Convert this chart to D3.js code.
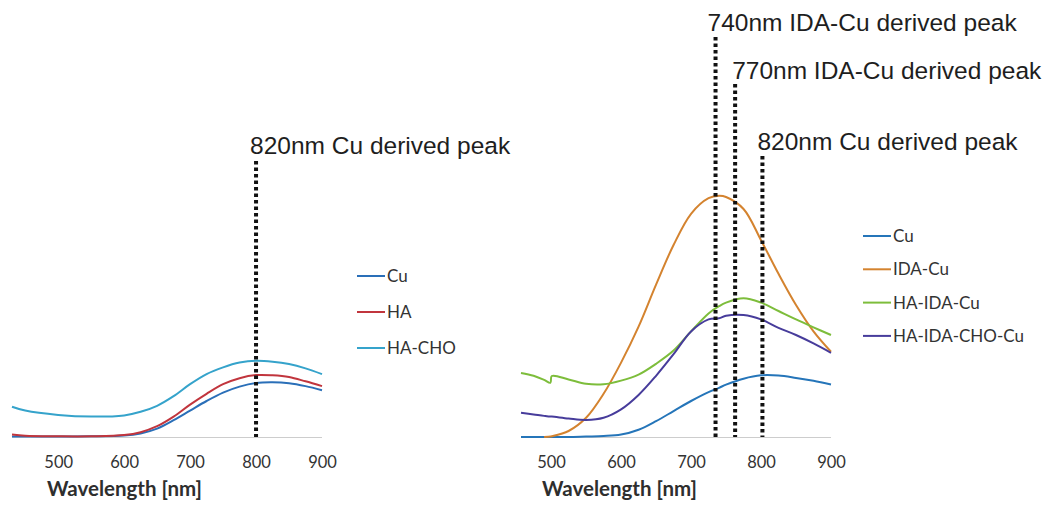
<!DOCTYPE html>
<html>
<head>
<meta charset="utf-8">
<script src="https://cdn.jsdelivr.net/npm/d3@7"></script>
<style>
	body { margin: 0; background: #fff; }
	svg { display: block; }
	.tick text { font-family: Lato, sans-serif; font-size: 16.5px; fill: #333; }
	.xtitle { font-family: Lato, sans-serif; font-size: 20.5px; font-weight: bold; fill: #2e2e2e; }
	.legend text { font-family: Lato, sans-serif; font-size: 17px; fill: #333; }
	.peak text { font-family: "Liberation Sans", Arial, sans-serif; font-size: 24.5px; fill: #1e1e1e; }
</style>
</head>
<body>
<div id="chart"></div>
<script>
// left panel: Cu, HA, HA-CHO
var leftWl = [430, 450, 500, 550, 600, 625, 650, 675, 700, 725, 750, 775, 800, 825, 850, 875, 900]
var leftCu = [0.002, 0.002, 0.002, 0.003, 0.006, 0.015, 0.035, 0.07, 0.11, 0.15, 0.185, 0.21, 0.225, 0.228, 0.224, 0.212, 0.195]
var leftHA = [0.01, 0.005, 0.003, 0.003, 0.008, 0.02, 0.045, 0.085, 0.135, 0.18, 0.22, 0.245, 0.258, 0.257, 0.25, 0.232, 0.212]
var leftHACHO = [0.126, 0.11, 0.092, 0.085, 0.09, 0.105, 0.13, 0.17, 0.22, 0.262, 0.29, 0.31, 0.318, 0.314, 0.304, 0.286, 0.262]
var leftNames = ["Cu", "HA", "HA-CHO"]
var leftPeakWl = [800]
var leftPeakLabels = ["820nm Cu derived peak"]

// right panel: Cu, IDA-Cu, HA-IDA-Cu, HA-IDA-CHO-Cu
var rightWl = [457, 475, 490, 499, 501, 525, 550, 575, 600, 625, 650, 675, 700, 725, 740, 750, 775, 800, 825, 850, 875, 900]
var rightCu = [0, 0, 0, 0, 0, 0, 0.002, 0.004, 0.01, 0.03, 0.066, 0.108, 0.15, 0.187, 0.205, 0.218, 0.243, 0.257, 0.256, 0.246, 0.234, 0.219]
var rightIDACu = [null, null, 0, 0.002, 0.003, 0.025, 0.08, 0.18, 0.31, 0.46, 0.635, 0.8, 0.93, 0.995, 1.005, 1.0, 0.95, 0.82, 0.68, 0.55, 0.44, 0.355]
var rightHAIDACu = [0.267, 0.255, 0.238, 0.226, 0.254, 0.24, 0.222, 0.22, 0.235, 0.26, 0.305, 0.36, 0.44, 0.515, 0.545, 0.56, 0.578, 0.56, 0.525, 0.49, 0.457, 0.425]
var rightHAIDACHOCu = [0.101, 0.094, 0.088, 0.085, 0.085, 0.077, 0.071, 0.08, 0.115, 0.175, 0.255, 0.345, 0.44, 0.49, 0.495, 0.505, 0.508, 0.49, 0.455, 0.425, 0.39, 0.351]
var rightNames = ["Cu", "IDA-Cu", "HA-IDA-Cu", "HA-IDA-CHO-Cu"]
var rightPeakWl = [735, 763, 802]
var rightPeakLabels = ["740nm IDA-Cu derived peak", "770nm IDA-Cu derived peak", "820nm Cu derived peak"]

var tickWl = [500, 600, 700, 800, 900]
var xTitle = "Wavelength [nm]"

var W = 1052, H = 505
var svg = d3.select("#chart").append("svg").attr("width", W).attr("height", H)
svg.append("rect").attr("width", W).attr("height", H).attr("fill", "#fff")

var y = d3.scaleLinear().domain([0, 1]).range([437, 197])

function panel(opts) {
	var x = d3.scaleLinear().domain(opts.domain).range(opts.range)
	var g = svg.append("g")

	var axis = g.append("g")
		.attr("transform", "translate(0," + y(0) + ")")
		.call(d3.axisBottom(x).tickValues(tickWl).tickSize(0).tickPadding(19).tickFormat(d3.format("d")))
	axis.select(".domain").attr("stroke", "#9a9a9a").attr("stroke-width", 1).attr("stroke-dasharray", "1,1")

	g.append("text").attr("class", "xtitle")
		.attr("x", opts.titleX).attr("y", 496)
		.text(xTitle)

	var line = d3.line()
		.defined(function(d) { return d[1] != null })
		.x(function(d) { return x(d[0]) })
		.y(function(d) { return y(d[1]) })
		.curve(d3.curveCatmullRom.alpha(0.5))

	opts.series.forEach(function(vals, i) {
		g.append("path")
			.datum(opts.wl.map(function(w, j) { return [w, vals[j]] }))
			.attr("fill", "none")
			.attr("stroke", opts.colors[i])
			.attr("stroke-width", 2)
			.attr("d", line)
	})

	// dotted peak markers and their labels
	opts.peaks.forEach(function(w, i) {
		var pg = g.append("g").attr("class", "peak")
		pg.append("line")
			.attr("x1", x(w)).attr("x2", x(w))
			.attr("y1", opts.peakTop[i]).attr("y2", y(0))
			.attr("stroke", "#111").attr("stroke-width", 4).attr("stroke-dasharray", "3.5,3")
		pg.append("text")
			.attr("x", x(w) + opts.labelDx[i]).attr("y", opts.labelY[i])
			.text(opts.peakLabels[i])
	})

	var lg = g.append("g").attr("class", "legend")
	opts.names.forEach(function(n, i) {
		var ly = opts.legendY + i * opts.legendStep
		lg.append("line")
			.attr("x1", opts.legendX).attr("x2", opts.legendX + 28)
			.attr("y1", ly).attr("y2", ly)
			.attr("stroke", opts.colors[i]).attr("stroke-width", 2)
		lg.append("text")
			.attr("x", opts.legendX + 30).attr("y", ly).attr("dy", "0.36em")
			.text(n)
	})
}

panel({
	domain: [430, 900], range: [12, 322],
	wl: leftWl, series: [leftCu, leftHA, leftHACHO], names: leftNames,
	colors: ["#2a6fb8", "#c1353d", "#35a3cb"],
	peaks: leftPeakWl, peakLabels: leftPeakLabels,
	peakTop: [161], labelY: [154], labelDx: [-6],
	legendX: 357, legendY: 276, legendStep: 36,
	titleX: 47
})

panel({
	domain: [457, 900], range: [521, 831],
	wl: rightWl, series: [rightCu, rightIDACu, rightHAIDACu, rightHAIDACHOCu], names: rightNames,
	colors: ["#2575b9", "#d4832f", "#7dbd3b", "#473c9b"],
	peaks: rightPeakWl, peakLabels: rightPeakLabels,
	peakTop: [37, 84, 156], labelY: [31, 79, 150], labelDx: [-8, -3, -5],
	legendX: 863, legendY: 236, legendStep: 33.3,
	titleX: 542
})
</script>
</body>
</html>
